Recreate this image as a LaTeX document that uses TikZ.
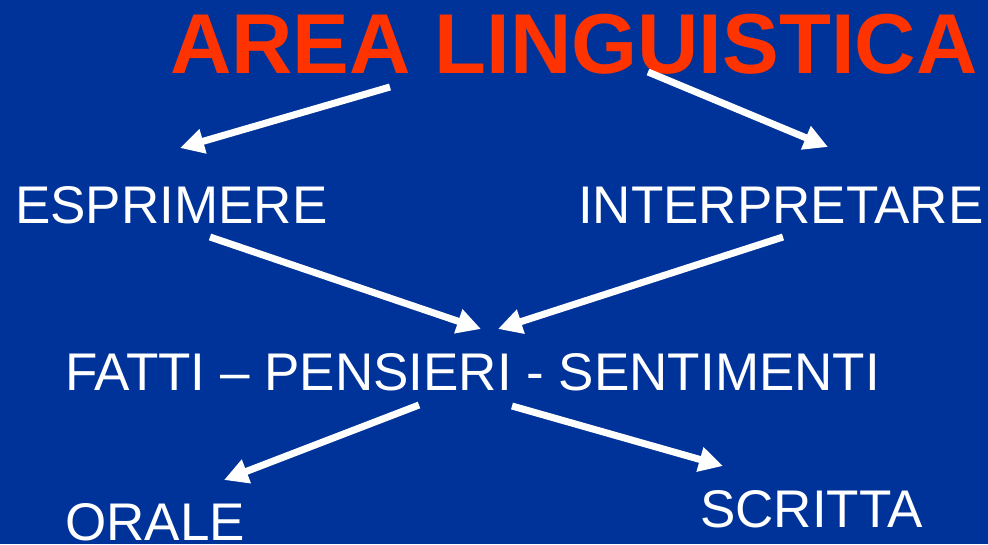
\documentclass[tikz,border=0pt]{standalone}
\usepackage{fontspec}
\setmainfont{Liberation Sans}
\usetikzlibrary{arrows.meta}
\definecolor{bgblue}{RGB}{0,51,153}
\definecolor{titlered}{RGB}{255,51,0}
\tikzset{
  lbl/.style={inner sep=0pt, anchor=base west, text=white, font=\fontsize{53}{60}\selectfont},
  ttl/.style={inner sep=0pt, anchor=base west, text=titlered, font=\fontsize{85}{96}\selectfont\bfseries},
  arr/.style={draw=white, line width=7pt, -{Triangle[length=24pt,width=24pt]}}
}
\begin{document}
\begin{tikzpicture}[x=1pt,y=-1pt]
\fill[bgblue] (0,0) rectangle (988,544);
\useasboundingbox (0,0) rectangle (988,544);
\node[ttl] (title) at (170,73) {AREA LINGUISTICA};
\node[lbl] (espr) at (15,223) {ESPRIMERE};
\node[lbl] (interp) at (578,223) {INTERPRETARE};
\node[lbl] (fatti) at (65,390) {FATTI – PENSIERI - SENTIMENTI};
\node[lbl] (orale) at (65,540) {ORALE};
\node[lbl] (scritta) at (700,527) {SCRITTA};
\coordinate (a1s) at (390,87);  \coordinate (a1e) at (180,148);
\coordinate (a2s) at (648,72);  \coordinate (a2e) at (828,147);
\coordinate (a3s) at (210,237); \coordinate (a3e) at (481,329);
\coordinate (a4s) at (783,237); \coordinate (a4e) at (498,329);
\coordinate (a5s) at (419,405); \coordinate (a5e) at (224,480);
\coordinate (a6s) at (512,406); \coordinate (a6e) at (723,466);
\draw[arr] (a1s) -- (a1e);
\draw[arr] (a2s) -- (a2e);
\draw[arr] (a3s) -- (a3e);
\draw[arr] (a4s) -- (a4e);
\draw[arr] (a5s) -- (a5e);
\draw[arr] (a6s) -- (a6e);
\end{tikzpicture}
\end{document}
